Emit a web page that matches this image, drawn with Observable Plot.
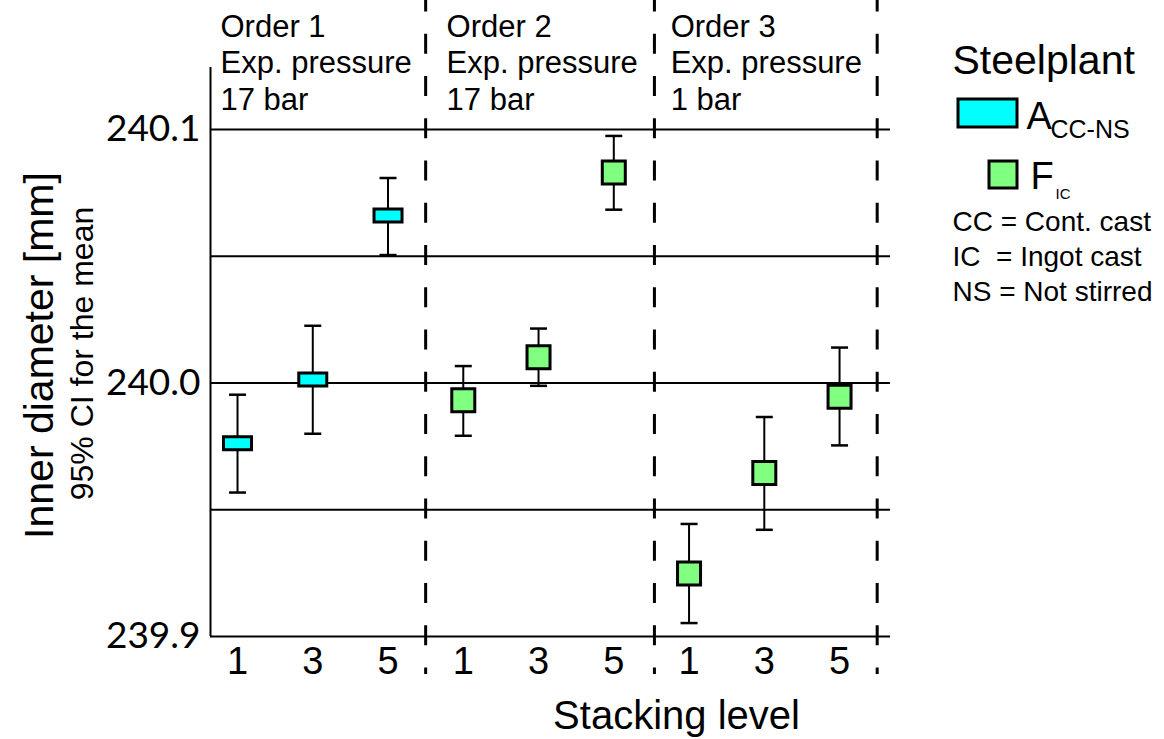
<!DOCTYPE html>
<html><head><meta charset="utf-8">
<script src="https://cdn.jsdelivr.net/npm/d3@7"></script>
<script src="https://cdn.jsdelivr.net/npm/@observablehq/plot@0.6"></script>
<style>body{margin:0;background:#fff;}</style>
</head><body><div id="chart"></div>
<script>
// ---- data ----
const orders = ["Order 1", "Order 2", "Order 3"];
const pressures = ["17 bar", "17 bar", "1 bar"];
const levels = [1, 3, 5];
const plants = ["A", "A", "A", "F", "F", "F", "F", "F", "F"];
const means = [239.9762, 240.0014, 240.0661, 239.9932, 240.0102, 240.0831, 239.9249, 239.9645, 239.9946];
const lower = [239.9568, 239.9800, 240.0505, 239.9792, 239.9989, 240.0684, 239.9053, 239.9421, 239.9754];
const upper = [239.9954, 240.0226, 240.0809, 240.0067, 240.0215, 240.0975, 239.9444, 239.9866, 240.0140];
const gridValues = [239.9, 239.95, 240.0, 240.05, 240.1];
const yTicks = [239.9, 240.0, 240.1];
const dividers = [2.5, 5.54, 8.5];
const dividerSpan = [240.1543, 239.885];
const orderLabelX = [-0.226, 2.778, 5.756];
const xDomain = [-0.359, 8.677];
const yDomain = [239.9, 240.1245];
const legendNotes = ["CC = Cont. cast", "IC\u00a0 = Ingot cast", "NS = Not stirred"];

const rows = means.map((m, i) => ({pos: i, level: levels[i % 3], plant: plants[i], mean: m, lo: lower[i], hi: upper[i]}));

const rectSymbol = (w, h) => ({draw(ctx) { ctx.rect(-w / 2, -h / 2, w, h); }});
const capSymbol = (w) => ({draw(ctx) { ctx.moveTo(-w / 2, 0); ctx.lineTo(w / 2, 0); }});

const SANS = "'Liberation Sans', Arial, sans-serif";
const cyan = "#00FFFF", green = "#80FF80";
const T = {fill: "black", lineAnchor: "middle"};

const chart = Plot.plot({
  width: 1164,
  height: 739,
  marginLeft: 210,
  marginRight: 274,
  marginTop: 67,
  marginBottom: 103,
  style: {fontFamily: SANS, color: "black", background: "white"},
  x: {type: "linear", domain: xDomain, axis: null},
  y: {domain: yDomain, axis: null},
  marks: [
    Plot.ruleY(gridValues, {stroke: "black", strokeWidth: 2}),
    Plot.ruleX([xDomain[0]], {stroke: "black", strokeWidth: 2}),
    Plot.ruleX(dividers, {y1: dividerSpan[0], y2: dividerSpan[1], stroke: "black", strokeWidth: 3, strokeDasharray: "20,22.25"}),
    Plot.axisY({ticks: yTicks, tickFormat: d3.format(".1f"), tickSize: 0, tickPadding: 10, fontSize: 37, fontFamily: "Lato", label: null}),
    Plot.axisX({ticks: rows.map(d => d.pos), tickFormat: i => levels[i % 3], tickSize: 0, tickPadding: 11, fontSize: 38, fontFamily: SANS, label: null}),
    // error bars
    Plot.ruleX(rows, {x: "pos", y1: "lo", y2: "hi", stroke: "black", strokeWidth: 2}),
    Plot.dot(rows, {x: "pos", y: "lo", symbol: capSymbol(17), stroke: "black", fill: "none", strokeWidth: 2.5}),
    Plot.dot(rows, {x: "pos", y: "hi", symbol: capSymbol(17), stroke: "black", fill: "none", strokeWidth: 2.5}),
    Plot.dot(rows.filter(d => d.plant === "A"), {x: "pos", y: "mean", symbol: rectSymbol(28, 13), fill: cyan, stroke: "black", strokeWidth: 3}),
    Plot.dot(rows.filter(d => d.plant === "F"), {x: "pos", y: "mean", symbol: rectSymbol(23, 23), fill: green, stroke: "black", strokeWidth: 3}),
    // order headers
    Plot.text(orders, {x: orderLabelX, text: (d, i) => `${d}\nExp. pressure\n${pressures[i]}`, frameAnchor: "top", lineAnchor: "top", textAnchor: "start", dy: -57.2, fontSize: 31, lineHeight: 1.19, fill: "black"}),
    // axis titles
    Plot.text(["Inner diameter [mm]"], {...T, frameAnchor: "left", textAnchor: "middle", rotate: -90, dx: -171, dy: 3.5, fontSize: 41}),
    Plot.text(["95% CI for the mean"], {...T, frameAnchor: "left", textAnchor: "middle", rotate: -90, dx: -128.2, dy: 1.5, fontSize: 32}),
    Plot.text(["Stacking level"], {...T, frameAnchor: "bottom", textAnchor: "middle", dx: 126, dy: 79.2, fontSize: 40}),
    // legend
    Plot.text(["Steelplant"], {...T, frameAnchor: "top-left", textAnchor: "start", dx: 742, dy: -7.1, fontSize: 41}),
    Plot.dot([plants[0]], {frameAnchor: "top-left", dx: 777, dy: 45.5, symbol: rectSymbol(59, 28), fill: cyan, stroke: "black", strokeWidth: 3}),
    Plot.text(["A"], {...T, frameAnchor: "top-left", textAnchor: "start", dx: 816, dy: 49, fontSize: 38}),
    Plot.text(["CC-NS"], {...T, frameAnchor: "top-left", textAnchor: "start", dx: 840, dy: 62, fontSize: 25}),
    Plot.dot([plants[3]], {frameAnchor: "top-left", dx: 792.5, dy: 107, symbol: rectSymbol(28, 27), fill: green, stroke: "black", strokeWidth: 3}),
    Plot.text(["F"], {...T, frameAnchor: "top-left", textAnchor: "start", dx: 820, dy: 109.5, fontSize: 38}),
    Plot.text(["IC"], {...T, frameAnchor: "top-left", textAnchor: "start", dx: 845, dy: 126.2, fontSize: 15}),
    Plot.text([legendNotes.join("\n")], {fill: "black", frameAnchor: "top-left", textAnchor: "start", lineAnchor: "top", dx: 742, dy: 138.2, fontSize: 28, lineHeight: 1.25})
  ]
});
document.getElementById("chart").appendChild(chart);
</script></body></html>
